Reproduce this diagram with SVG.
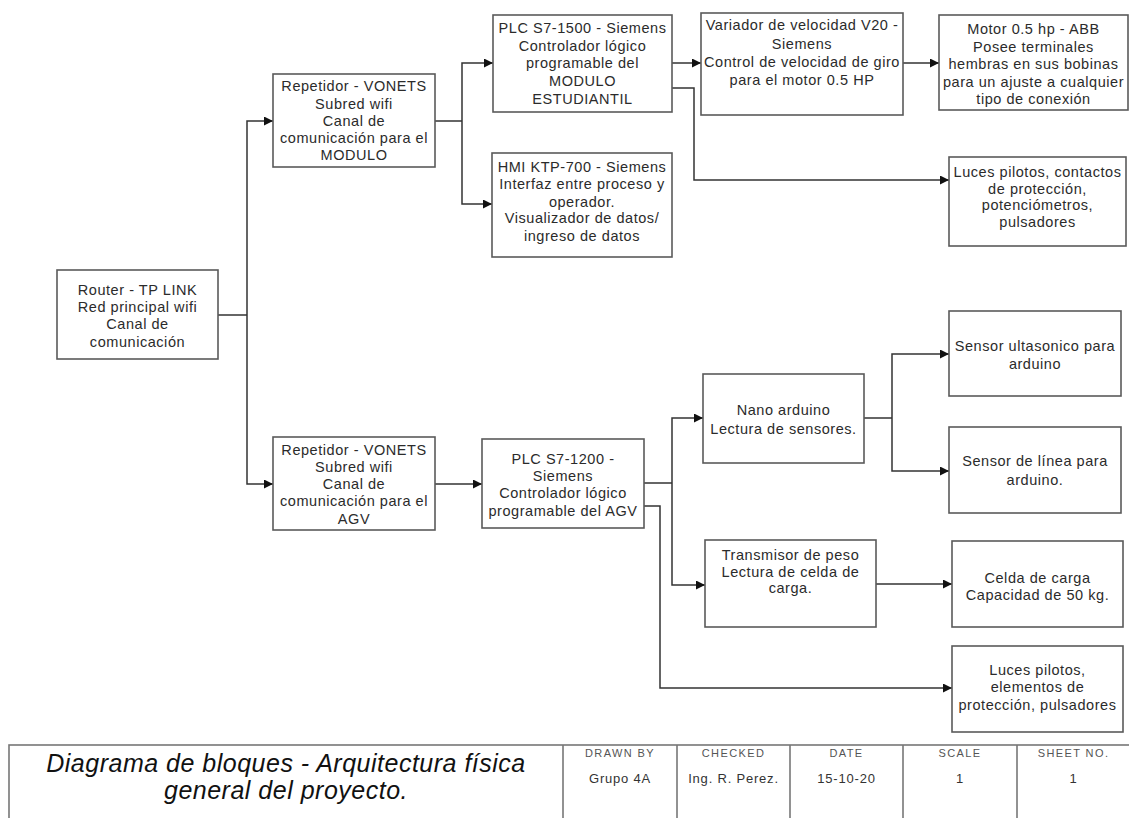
<svg xmlns="http://www.w3.org/2000/svg" width="1129" height="818" viewBox="0 0 1129 818">
<style>
.box{fill:#fff;stroke:#5a5a5a;stroke-width:1.6}
.t{font-family:"Liberation Sans",Arial,sans-serif;font-size:14.5px;letter-spacing:0.55px;fill:#2b2b2b;text-anchor:middle}
.c{fill:none;stroke:#333;stroke-width:1.5}
.hd{font-family:"Liberation Sans",Arial,sans-serif;font-size:11px;letter-spacing:1.4px;fill:#555;text-anchor:middle}
.val{font-family:"Liberation Sans",Arial,sans-serif;font-size:13px;letter-spacing:0.8px;fill:#333;text-anchor:middle}
.title{font-family:"Liberation Sans",Arial,sans-serif;font-size:25px;letter-spacing:0.5px;font-style:italic;fill:#111;text-anchor:middle}
.tb{fill:none;stroke:#777;stroke-width:1.6}
</style>
<defs>
<marker id="arr" viewBox="0 0 10 10" refX="10" refY="5" markerWidth="9" markerHeight="9" markerUnits="userSpaceOnUse" orient="auto">
<path d="M0,0 L10,5 L0,10 z" fill="#111"/>
</marker>
</defs>
<rect width="1129" height="818" fill="#fff"/>

<g id="connectors">
<path class="c" d="M218,315 H247"/>
<path class="c" d="M247,315 V121 H273" marker-end="url(#arr)"/>
<path class="c" d="M247,315 V484 H273" marker-end="url(#arr)"/>
<path class="c" d="M435,121 H462"/>
<path class="c" d="M462,121 V63 H493" marker-end="url(#arr)"/>
<path class="c" d="M462,121 V204 H492" marker-end="url(#arr)"/>
<path class="c" d="M672,63 H701" marker-end="url(#arr)"/>
<path class="c" d="M672,88 H694 V180 H949" marker-end="url(#arr)"/>
<path class="c" d="M903,63 H939" marker-end="url(#arr)"/>
<path class="c" d="M435,484 H482" marker-end="url(#arr)"/>
<path class="c" d="M644,483 H672"/>
<path class="c" d="M672,483 V418 H703" marker-end="url(#arr)"/>
<path class="c" d="M672,483 V585 H705" marker-end="url(#arr)"/>
<path class="c" d="M644,506 H660 V688 H952" marker-end="url(#arr)"/>
<path class="c" d="M864,418 H892"/>
<path class="c" d="M892,418 V354 H949" marker-end="url(#arr)"/>
<path class="c" d="M892,418 V471 H949" marker-end="url(#arr)"/>
<path class="c" d="M876,584 H952" marker-end="url(#arr)"/>
</g>

<g id="router">
<rect class="box" x="57" y="270" width="161" height="89"/>
<text class="t" x="137.5" y="294.5">Router - TP LINK</text>
<text class="t" x="137.5" y="311.5">Red principal wifi</text>
<text class="t" x="137.5" y="328.5">Canal de</text>
<text class="t" x="137.5" y="347">comunicación</text>
</g>

<g id="repetidor-modulo">
<rect class="box" x="273" y="74" width="162" height="93"/>
<text class="t" x="354" y="90.5">Repetidor - VONETS</text>
<text class="t" x="354" y="108.5">Subred wifi</text>
<text class="t" x="354" y="126">Canal de</text>
<text class="t" x="354" y="142.5">comunicación para el</text>
<text class="t" x="354" y="159.5">MODULO</text>
</g>

<g id="repetidor-agv">
<rect class="box" x="273" y="437" width="162" height="93"/>
<text class="t" x="354" y="455">Repetidor - VONETS</text>
<text class="t" x="354" y="472">Subred wifi</text>
<text class="t" x="354" y="489">Canal de</text>
<text class="t" x="354" y="505.5">comunicación para el</text>
<text class="t" x="354" y="523.5">AGV</text>
</g>

<g id="plc1500">
<rect class="box" x="493" y="15" width="179" height="97"/>
<text class="t" x="582.5" y="32.5">PLC S7-1500 - Siemens</text>
<text class="t" x="582.5" y="51">Controlador lógico</text>
<text class="t" x="582.5" y="68">programable del</text>
<text class="t" x="582.5" y="85.5">MODULO</text>
<text class="t" x="582.5" y="103.5">ESTUDIANTIL</text>
</g>

<g id="hmi">
<rect class="box" x="492" y="153" width="180" height="104"/>
<text class="t" x="582" y="171.5">HMI KTP-700 - Siemens</text>
<text class="t" x="582" y="188.5">Interfaz entre proceso y</text>
<text class="t" x="582" y="206.5">operador.</text>
<text class="t" x="582" y="223">Visualizador de datos/</text>
<text class="t" x="582" y="241">ingreso de datos</text>
</g>

<g id="variador">
<rect class="box" x="701" y="13" width="202" height="102"/>
<text class="t" x="802" y="29.5">Variador de velocidad V20 -</text>
<text class="t" x="802" y="48.5">Siemens</text>
<text class="t" x="802" y="66.5">Control de velocidad de giro</text>
<text class="t" x="802" y="84.5">para el motor 0.5 HP</text>
</g>

<g id="motor">
<rect class="box" x="939" y="15" width="189" height="95"/>
<text class="t" x="1033.5" y="33.5">Motor 0.5 hp - ABB</text>
<text class="t" x="1033.5" y="52">Posee terminales</text>
<text class="t" x="1033.5" y="68.5">hembras en sus bobinas</text>
<text class="t" x="1033.5" y="86.5">para un ajuste a cualquier</text>
<text class="t" x="1033.5" y="103.5">tipo de conexión</text>
</g>

<g id="luces-modulo">
<rect class="box" x="949" y="157" width="177" height="89"/>
<text class="t" x="1037.5" y="176.5">Luces pilotos, contactos</text>
<text class="t" x="1037.5" y="193.5">de protección,</text>
<text class="t" x="1037.5" y="209.5">potenciómetros,</text>
<text class="t" x="1037.5" y="226.5">pulsadores</text>
</g>

<g id="plc1200">
<rect class="box" x="482" y="439" width="162" height="89"/>
<text class="t" x="563" y="463.5">PLC S7-1200 -</text>
<text class="t" x="563" y="480.5">Siemens</text>
<text class="t" x="563" y="497.5">Controlador lógico</text>
<text class="t" x="563" y="516">programable del AGV</text>
</g>

<g id="nano">
<rect class="box" x="703" y="374" width="161" height="89"/>
<text class="t" x="783.5" y="414.5">Nano arduino</text>
<text class="t" x="783.5" y="434">Lectura de sensores.</text>
</g>

<g id="transmisor">
<rect class="box" x="705" y="540" width="171" height="87"/>
<text class="t" x="790.5" y="559.5">Transmisor de peso</text>
<text class="t" x="790.5" y="576.5">Lectura de celda de</text>
<text class="t" x="790.5" y="592.5">carga.</text>
</g>

<g id="sensor-ultrasonico">
<rect class="box" x="949" y="311" width="172" height="85"/>
<text class="t" x="1035" y="351">Sensor ultasonico para</text>
<text class="t" x="1035" y="368.5">arduino</text>
</g>

<g id="sensor-linea">
<rect class="box" x="949" y="427" width="172" height="86"/>
<text class="t" x="1035" y="466">Sensor de línea para</text>
<text class="t" x="1035" y="484.5">arduino.</text>
</g>

<g id="celda">
<rect class="box" x="952" y="541" width="171" height="86"/>
<text class="t" x="1037.5" y="582.5">Celda de carga</text>
<text class="t" x="1037.5" y="599.5">Capacidad de 50 kg.</text>
</g>

<g id="luces-agv">
<rect class="box" x="952" y="646" width="171" height="86"/>
<text class="t" x="1037.5" y="674.5">Luces pilotos,</text>
<text class="t" x="1037.5" y="691.5">elementos de</text>
<text class="t" x="1037.5" y="709.5">protección, pulsadores</text>
</g>

<g id="title-block">
<rect class="tb" x="9" y="745" width="1125" height="80"/>
<line class="tb" x1="563" y1="745" x2="563" y2="818"/>
<line class="tb" x1="677" y1="745" x2="677" y2="818"/>
<line class="tb" x1="790" y1="745" x2="790" y2="818"/>
<line class="tb" x1="903" y1="745" x2="903" y2="818"/>
<line class="tb" x1="1017" y1="745" x2="1017" y2="818"/>
<text class="title" x="286" y="772">Diagrama de bloques - Arquitectura física</text>
<text class="title" x="286" y="799">general del proyecto.</text>
<text class="hd" x="620" y="757">DRAWN BY</text>
<text class="hd" x="733.5" y="757">CHECKED</text>
<text class="hd" x="846.5" y="757">DATE</text>
<text class="hd" x="960" y="757">SCALE</text>
<text class="hd" x="1073.5" y="757">SHEET NO.</text>
<text class="val" x="620" y="783">Grupo 4A</text>
<text class="val" x="733.5" y="783">Ing. R. Perez.</text>
<text class="val" x="846.5" y="783">15-10-20</text>
<text class="val" x="960" y="783">1</text>
<text class="val" x="1073.5" y="783">1</text>
</g>
</svg>
